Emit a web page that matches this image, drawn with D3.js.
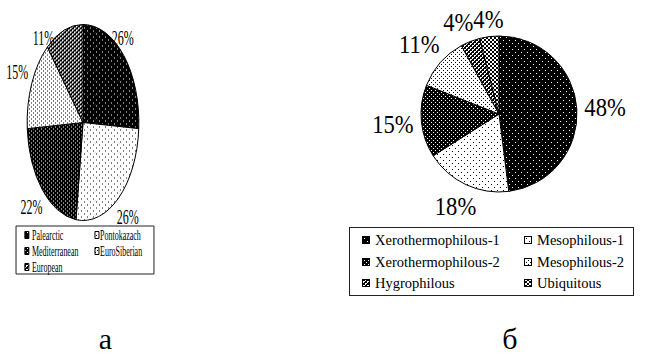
<!DOCTYPE html>
<html><head><meta charset="utf-8">
<script src="https://cdn.jsdelivr.net/npm/d3@7"></script>
<style>html,body{margin:0;padding:0;background:#fff;} svg{display:block;} text{font-family:"Liberation Serif","DejaVu Serif",serif;}</style>
</head><body><svg id="c" width="662" height="354" font-family="Liberation Serif, DejaVu Serif, serif"></svg>
<script>
// ---- data ----
const leftCategories = ["Palearctic","Pontokazach","Mediterranean","EuroSiberian","European"];
const leftValues = [26,26,22,15,11];
const rightCategories = ["Xerothermophilous-1","Mesophilous-1","Xerothermophilous-2","Mesophilous-2","Hygrophilous","Ubiquitous"];
const rightValues = [48,18,15,11,4,4];
const panelLabels = ["а","б"];
// ---- styles ----
const leftFills = ["darkSparse","lightSparse","darkDense","lightDense","checkDark"];
const rightFills = ["darkSparse","lightSparse","darkDense","lightDense","checkDark","checkLight"];
const FONT = "'Liberation Serif', 'DejaVu Serif', serif";

const svg = d3.select("#c");
const defs = svg.append("defs");

function addPatterns(prefix, sx){
  const specs = {
    darkSparse:{w:6,h:6,bg:"#000",fg:"#fff",px:[[1,1],[4,4]]},
    lightSparse:{w:6,h:6,bg:"#fff",fg:"#000",px:[[1,1],[4,4]]},
    darkDense:{w:4,h:4,bg:"#000",fg:"#fff",px:[[0,0],[2,2]]},
    lightDense:{w:4,h:4,bg:"#fff",fg:"#000",px:[[0,0],[2,2]]},
    checkDark:{w:4,h:4,bg:"#fff",fg:"#000",px:[[0,0],[1,1],[2,2],[3,3],[0,3],[1,2],[2,1],[3,0],[0,2],[2,0]]},
    checkLight:{w:4,h:4,bg:"#fff",fg:"#000",px:[[0,0],[1,1],[2,2],[3,3],[0,3],[1,2],[2,1],[3,0]]}
  };
  Object.entries(specs).forEach(([k,s])=>{
    const p = defs.append("pattern").attr("id",prefix+k).attr("patternUnits","userSpaceOnUse")
      .attr("width",s.w).attr("height",s.h).attr("patternTransform",`scale(${1/sx},1)`);
    p.append("rect").attr("width",s.w).attr("height",s.h).attr("fill",s.bg);
    s.px.forEach(([x,y])=>p.append("rect").attr("x",x).attr("y",y).attr("width",1).attr("height",1).attr("fill",s.fg));
  });
}

function drawPie(g, values, fills, prefix, r, opt){
  const pie = d3.pie().sort(null).value(d=>d);
  const arcs = pie(values);
  const arc = d3.arc().innerRadius(0).outerRadius(r);
  g.selectAll("path.slice").data(arcs).join("path").attr("class","slice")
    .attr("d",arc).attr("fill",(d,i)=>`url(#${prefix}${fills[i]})`)
    .attr("stroke","#000").attr("stroke-width",1).attr("vector-effect","non-scaling-stroke");
  const placed = [];
  arcs.forEach(a=>{
    const mid = (a.startAngle+a.endAngle)/2;
    const s = Math.sin(mid), c = -Math.cos(mid);
    const t = g.append("text").text(a.value+"%").attr("font-size",opt.fontSize).attr("font-family",FONT)
      .attr("text-anchor","middle").attr("dominant-baseline","central");
    const w = t.node().getComputedTextLength()*opt.textSx;
    const h = opt.fontSize*0.7;
    const d = w/2*Math.abs(s) + h/2*Math.abs(c);
    const dist = r + opt.gap + d;
    let x = dist*s, y = dist*c;
    if (opt.minY !== undefined && y < opt.minY) {
      y = opt.minY;
      const cx = Math.sqrt(Math.max(0, r*r - y*y));
      x = s < 0 ? -cx - w/2 : cx + w/2;
    }
    placed.push({t,x,y,w,h});
  });
  // resolve horizontal overlaps between neighbours
  for (let i=placed.length-2;i>=0;i--){
    const a = placed[i], b = placed[i+1];
    if (Math.abs(a.y-b.y) < (a.h+b.h)/2) {
      const ov = (a.x + a.w/2) - (b.x - b.w/2);
      if (a.x < b.x && ov > 0) { a.x -= ov*0.75; b.x += ov*0.25; }
    }
  }
  placed.forEach(p=>p.t.attr("transform",`translate(${p.x},${p.y}) scale(${opt.textSx},1)`));
}

// ---------- left chart (horizontally compressed) ----------
const LSX = 0.57;
addPatterns("L_", LSX);
addPatterns("R_", 1);
const left = svg.append("g").attr("transform",`translate(83,0) scale(${LSX},1)`);
const lcy = 122.5;
const lPie = left.append("g").attr("transform",`translate(0,${lcy})`);
drawPie(lPie, leftValues, leftFills, "L_", 98, {fontSize:21, textSx:1, gap:7, minY:38.5-lcy});

const lLeg = left.append("g");
lLeg.append("rect").attr("x",-117.5).attr("y",226).attr("width",242).attr("height",48)
  .attr("fill","#fff").attr("stroke","#222").attr("stroke-width",1).attr("vector-effect","non-scaling-stroke");
const lRows = [235,251,267], lMarkX=[-102,21], lTextX=[-89.5,30];
leftCategories.forEach((name,i)=>{
  const row = Math.floor(i/2), col = i%2;
  lLeg.append("rect").attr("x",lMarkX[col]).attr("y",lRows[row]-3.5).attr("width",7).attr("height",7)
    .attr("fill",`url(#L_${leftFills[i]})`).attr("stroke","#000").attr("stroke-width",1).attr("vector-effect","non-scaling-stroke");
  lLeg.append("text").attr("x",lTextX[col]).attr("y",lRows[row]).attr("dominant-baseline","central")
    .attr("font-family",FONT).attr("font-size",14).text(name);
});

// ---------- right chart ----------
const right = svg.append("g").attr("transform","translate(499,114)");
drawPie(right, rightValues, rightFills, "R_", 78, {fontSize:26, textSx:0.87, gap:7});

const rLeg = svg.append("g");
rLeg.append("rect").attr("x",349.5).attr("y",227.5).attr("width",284).attr("height",68)
  .attr("fill","#fff").attr("stroke","#222").attr("stroke-width",1);
const rRows=[240,262,283], rMarkX=[362,524], rTextX=[375,537];
rightCategories.forEach((name,i)=>{
  const row = Math.floor(i/2), col = i%2;
  rLeg.append("rect").attr("x",rMarkX[col]+0.5).attr("y",rRows[row]-3.5).attr("width",7).attr("height",7)
    .attr("fill",`url(#R_${rightFills[i]})`).attr("stroke","#000").attr("stroke-width",1);
  rLeg.append("text").attr("x",rTextX[col]).attr("y",rRows[row]).attr("dominant-baseline","central")
    .attr("font-family",FONT).attr("font-size",14.5).text(name);
});

// ---------- panel labels ----------
const panelX = [105.5, 510];
panelLabels.forEach((t,i)=>{
  svg.append("text").attr("x",panelX[i]).attr("y",349).attr("text-anchor","middle")
    .attr("font-family",FONT).attr("font-size",30).text(t);
});
</script></body></html>
